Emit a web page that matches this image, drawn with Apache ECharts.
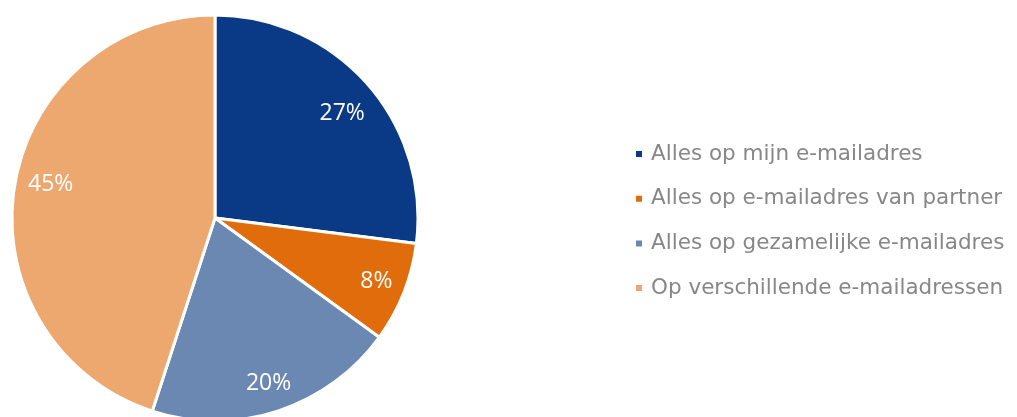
<!DOCTYPE html>
<html>
<head>
<meta charset="utf-8">
<script src="https://cdn.jsdelivr.net/npm/echarts@6/dist/echarts.min.js"></script>
<style>
  html, body { margin: 0; padding: 0; background: #fff; }
  #chart { width: 1017px; height: 417px; }
</style>
</head>
<body>
<div id="chart"></div>
<script>
// data
const categories = [
    'Alles op mijn e-mailadres',
    'Alles op e-mailadres van partner',
    'Alles op gezamelijke e-mailadres',
    'Op verschillende e-mailadressen'
]
const shares = [27, 8, 20, 45]
const colorList = ['#0a3a85', '#e06c0b', '#6b88b3', '#eda86f']

// small nudges so the labels sit where the original put them (x via padding, y via a spacer line)
const labelPadding = [[0, 6, 0, 0], [0, 0, 0, 0], [0, 0, 0, 0], [0, 0, 0, 14]]
const labelShiftY = [20, 0, 0, -12]

const pieData = categories.map((name, i) => ({ name: name, value: shares[i] }))
const labelData = categories.map((name, i) => {
    let fmt = '{c}%'
    if (labelShiftY[i] > 0) fmt = '{s| }\n{c}%'
    if (labelShiftY[i] < 0) fmt = '{c}%\n{s| }'
    return {
        name: name,
        value: shares[i],
        label: {
            padding: labelPadding[i],
            formatter: fmt,
            rich: { s: { fontSize: 1, lineHeight: Math.abs(labelShiftY[i]) } }
        }
    }
})

const myChart = echarts.init(document.getElementById('chart'))
const center = [215, 218]

let option = {
    animation: false,
    color: colorList,
    legend: {
        orient: 'vertical',
        left: 629,
        top: 138,
        icon: 'rect',
        itemWidth: 8,
        itemHeight: 8,
        itemGap: 22.7,
        data: categories,
        textStyle: {
            fontFamily: 'DejaVu Sans',
            fontSize: 21.5,
            lineHeight: 21,
            color: '#878787',
            padding: [0, 0, 0, 3]
        }
    },
    series: [
        {
            // the visible pie
            name: 'pie',
            type: 'pie',
            center: center,
            radius: [0, 203],
            startAngle: 90,
            clockwise: true,
            label: { show: false },
            labelLine: { show: false },
            itemStyle: {
                borderColor: '#ffffff',
                borderWidth: 3
            },
            emphasis: { disabled: true },
            data: pieData
        },
        {
            // transparent ring, only to place the percentage labels further out
            name: 'labels',
            type: 'pie',
            center: center,
            radius: [138, 203],
            startAngle: 90,
            clockwise: true,
            silent: true,
            itemStyle: { color: 'rgba(0,0,0,0)', borderWidth: 0 },
            label: {
                show: true,
                position: 'inside',
                color: '#ffffff',
                fontFamily: 'Open Sans',
                fontSize: 23,
                lineHeight: 28
            },
            labelLine: { show: false },
            emphasis: { disabled: true },
            data: labelData
        }
    ]
}
myChart.setOption(option)
window.addEventListener('resize', () => {
    if (myChart) {
        myChart.resize()
    }
})
</script>
</body>
</html>
